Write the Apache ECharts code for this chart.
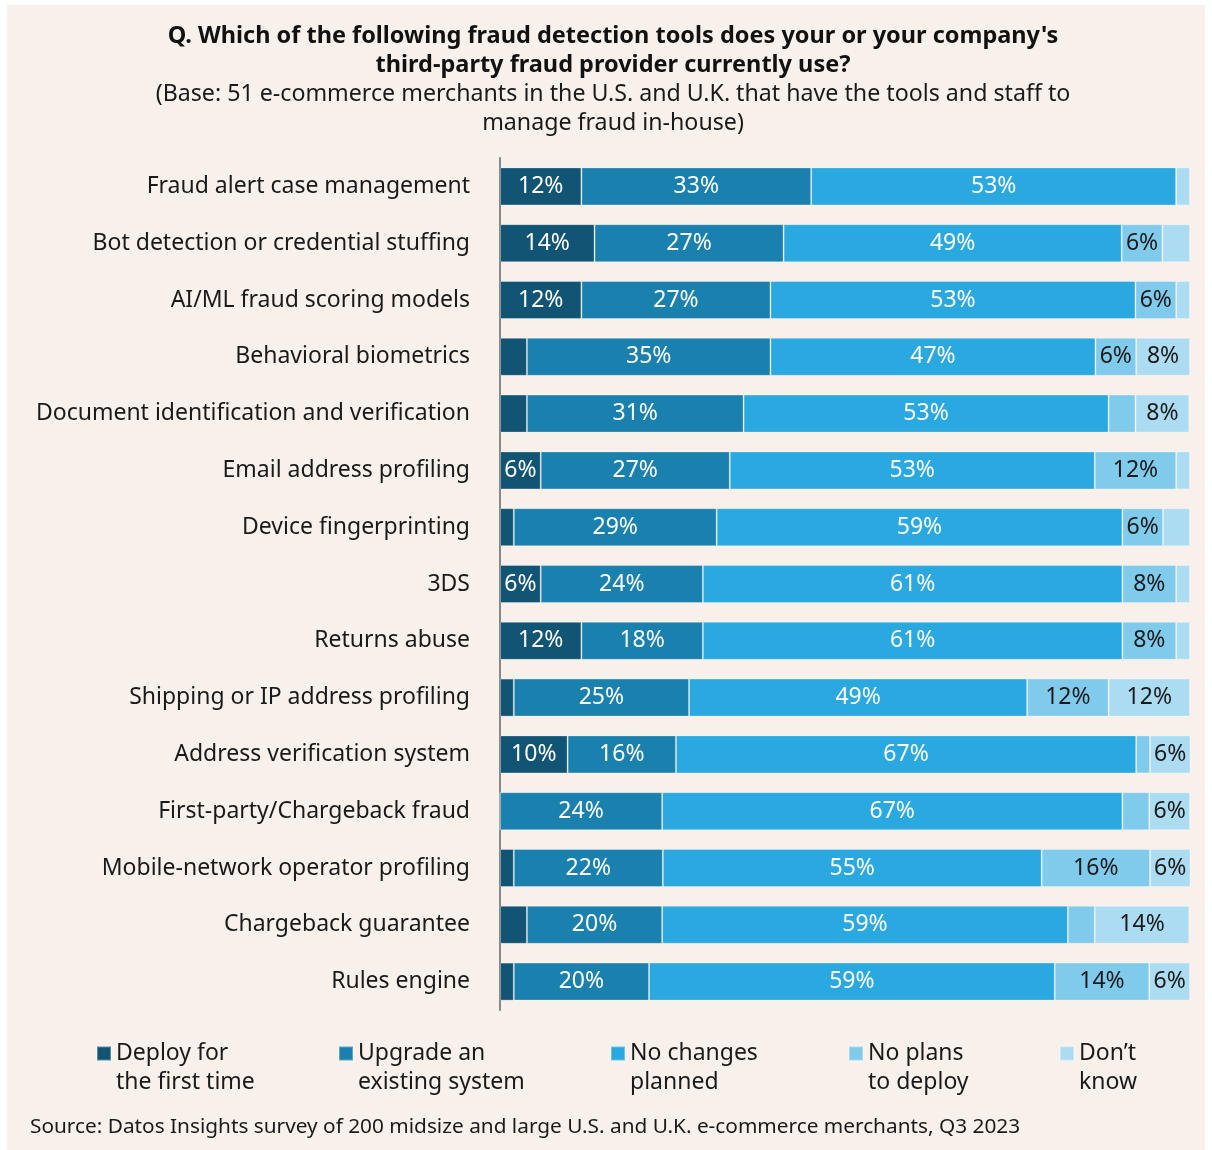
<!DOCTYPE html>
<html>
<head>
<meta charset="utf-8">
<script src="https://cdn.jsdelivr.net/npm/echarts@6/dist/echarts.min.js"></script>
<style>
html,body{margin:0;padding:0;background:#ffffff;}
#chart{width:1212px;height:1150px;}
</style>
</head>
<body>
<div id="chart"></div>
<script>
const categories = [
  'Fraud alert case management',
  'Bot detection or credential stuffing',
  'AI/ML fraud scoring models',
  'Behavioral biometrics',
  'Document identification and verification',
  'Email address profiling',
  'Device fingerprinting',
  '3DS',
  'Returns abuse',
  'Shipping or IP address profiling',
  'Address verification system',
  'First-party/Chargeback fraud',
  'Mobile-network operator profiling',
  'Chargeback guarantee',
  'Rules engine'
];
const seriesNames = ['Deploy for\nthe first time', 'Upgrade an\nexisting system', 'No changes\nplanned', 'No plans\nto deploy', 'Don\u2019t\nknow'];
const deployFirst = [11.8, 13.7, 11.8, 3.9, 3.9, 5.9, 2.0, 5.9, 11.8, 2.0, 9.8, 0, 2.0, 3.9, 2.0];
const upgrade     = [33.3, 27.4, 27.4, 35.3, 31.4, 27.4, 29.4, 23.5, 17.6, 25.4, 15.7, 23.5, 21.6, 19.6, 19.6];
const noChanges   = [52.9, 49.0, 52.9, 47.1, 52.9, 52.9, 58.8, 60.8, 60.8, 49.0, 66.7, 66.7, 54.9, 58.8, 58.8];
const noPlans     = [0, 5.9, 5.9, 5.9, 3.9, 11.8, 5.9, 7.8, 7.8, 11.8, 2.0, 3.9, 15.7, 3.9, 13.7];
const dontKnow    = [2.0, 4.0, 2.0, 7.8, 7.8, 2.0, 3.9, 2.0, 2.0, 11.8, 5.9, 5.9, 5.9, 13.7, 5.9];

const colors = ['#125474', '#1a80ae', '#2aa8e0', '#80caec', '#abdcf2'];
const labelColors = ['#ffffff', '#ffffff', '#ffffff', '#1a1a1a', '#1a1a1a'];
const allData = [deployFirst, upgrade, noChanges, noPlans, dontKnow];
const FONT = 'Noto Sans';

const chart = echarts.init(document.getElementById('chart'), null, {renderer: 'canvas'});

const series = allData.map((d, i) => ({
  name: seriesNames[i],
  type: 'bar',
  stack: 'total',
  barWidth: 38,
  data: d,
  itemStyle: {color: colors[i], borderColor: 'rgba(255,255,255,0.3)', borderWidth: 1},
  label: {
    show: true,
    position: 'inside',
    color: labelColors[i],
    fontFamily: FONT,
    fontSize: 23,
    formatter: p => p.value > 5 ? Math.round(p.value) + '%' : ''
  },
  emphasis: {disabled: true}
}));

const legendLefts = [96, 338, 610, 848, 1059];
const legends = seriesNames.map((n, i) => ({
  data: [n],
  left: legendLefts[i],
  top: 1010,
  padding: 0,
  itemWidth: 14,
  itemHeight: 14,
  itemGap: 5,
  icon: 'rect',
  selectedMode: false,
  formatter: name => ' \n' + name,
  textStyle: {
    fontFamily: FONT,
    fontSize: 23,
    color: '#1a1a1a',
    lineHeight: 29
  }
}));

chart.setOption({
  backgroundColor: '#ffffff',
  animation: false,
  graphic: [
    {type: 'rect', left: 7, top: 5, z: -10, silent: true,
     shape: {width: 1198, height: 1145}, style: {fill: '#f8f1eb'}},
    {type: 'text', left: 30, top: 1117, z: 10,
     style: {text: 'Source: Datos Insights survey of 200 midsize and large U.S. and U.K. e-commerce merchants, Q3 2023',
             fontFamily: FONT, fontSize: 20.8, fill: '#1a1a1a'}}
  ],
  title: {
    text: 'Q. Which of the following fraud detection tools does your or your company\'s\nthird-party fraud provider currently use?',
    subtext: '(Base: 51 e-commerce merchants in the U.S. and U.K. that have the tools and staff to\nmanage fraud in-house)',
    left: 613,
    textAlign: 'center',
    top: 22,
    itemGap: 0,
    padding: 0,
    textStyle: {fontFamily: FONT, fontSize: 23.5, fontWeight: 'bold', color: '#111111', lineHeight: 29},
    subtextStyle: {fontFamily: FONT, fontSize: 23.2, color: '#1a1a1a', lineHeight: 29}
  },
  legend: legends,
  grid: {left: 500, right: 22, top: 158, height: 852, containLabel: false},
  xAxis: {
    type: 'value', min: 0, max: 100,
    show: false
  },
  yAxis: {
    type: 'category',
    data: categories,
    inverse: true,
    axisLine: {show: true, lineStyle: {color: '#8c8782', width: 2}},
    axisTick: {show: false},
    axisLabel: {fontFamily: FONT, fontSize: 23, color: '#1a1a1a', margin: 30}
  },
  series: series
});
</script>
</body>
</html>
